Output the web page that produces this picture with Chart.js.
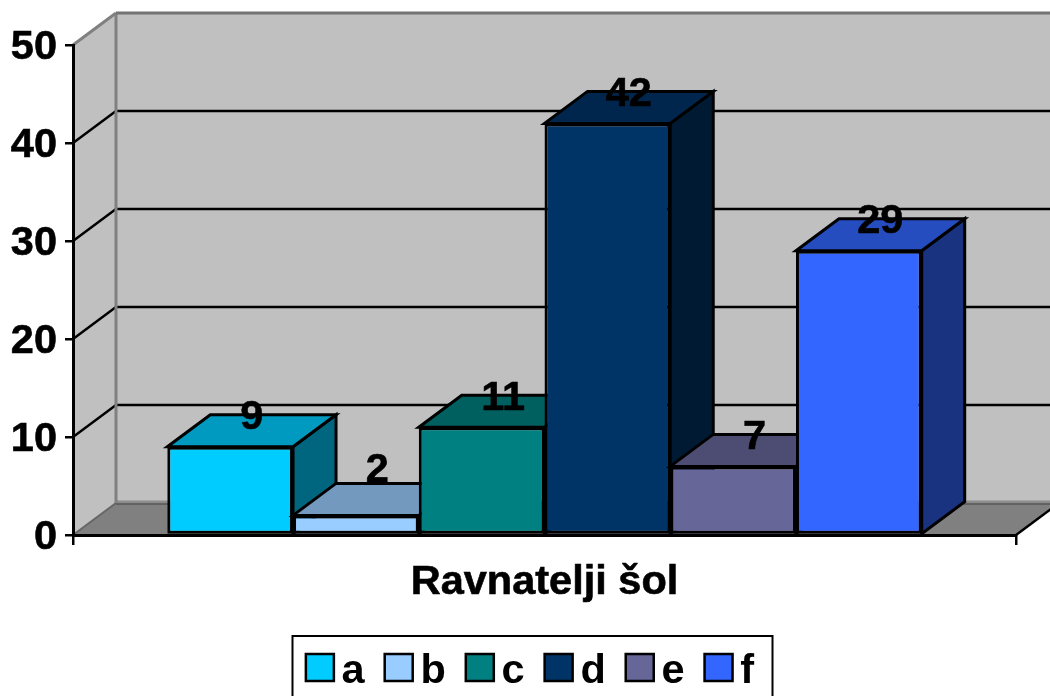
<!DOCTYPE html>
<html>
<head>
<meta charset="utf-8">
<title>Ravnatelji šol</title>
<script src="https://cdn.jsdelivr.net/npm/chart.js@4"></script>
<style>
  html, body { margin: 0; padding: 0; background: #fff; overflow: hidden; }
  #wrap { width: 1050px; height: 696px; }
</style>
</head>
<body>
<div id="wrap"><canvas id="chart" width="1050" height="696"></canvas></div>
<script>
// data
const categories = ['Ravnatelji šol'];
const seriesNames = ['a', 'b', 'c', 'd', 'e', 'f'];
const seriesValues = [9, 2, 11, 42, 7, 29];
const yTicks = [0, 10, 20, 30, 40, 50];

// bar faces: front, top, side
const frontColors = ['#00CCFF', '#99CCFF', '#008080', '#003366', '#666699', '#3366FF'];
const topColors = ['#0099BF', '#7399BF', '#006060', '#00264D', '#4D4D73', '#264DBF'];
const sideColors = ['#006680', '#4C6680', '#004040', '#001A33', '#33334D', '#1A3380'];

const DEPTH_X = 43;
const DEPTH_Y = 32;
const EDGE = 3;
const FONT = 'bold 41.5px "Liberation Sans", Arial, sans-serif';

function poly(ctx, pts, fill, stroke, lw) {
    ctx.beginPath();
    ctx.moveTo(pts[0][0], pts[0][1]);
    for (let i = 1; i < pts.length; i++) ctx.lineTo(pts[i][0], pts[i][1]);
    ctx.closePath();
    if (fill) { ctx.fillStyle = fill; ctx.fill(); }
    if (stroke) { ctx.strokeStyle = stroke; ctx.lineWidth = lw; ctx.lineJoin = 'miter'; ctx.stroke(); }
}

function line(ctx, x1, y1, x2, y2, color, lw) {
    ctx.beginPath();
    ctx.moveTo(x1, y1);
    ctx.lineTo(x2, y2);
    ctx.strokeStyle = color;
    ctx.lineWidth = lw;
    ctx.stroke();
}

// the 3d box: walls, floor and gridlines behind the bars, side and top faces per bar
const box3d = {
    id: 'box3d',
    afterLayout(chart) {
        // legend sits a bit off the chart centre and runs past the bottom edge
        const lg = chart.legend;
        lg.left += 22;
        lg.right += 22;
        const h = lg.height;
        lg.top = 630.75;
        lg.bottom = lg.top + h;
    },
    beforeDraw(chart) {
        const ctx = chart.ctx;
        const { left, right } = chart.chartArea;
        const y = chart.scales.y;
        const y0 = y.getPixelForValue(0);
        const yMax = y.getPixelForValue(50);
        const bl = left + DEPTH_X;
        const br = right + DEPTH_X;
        ctx.save();
        ctx.fillStyle = '#fff';
        ctx.fillRect(0, 0, chart.width, chart.height);
        // walls
        poly(ctx, [[bl, yMax - DEPTH_Y], [br, yMax - DEPTH_Y], [br, y0 - DEPTH_Y], [bl, y0 - DEPTH_Y]], '#C0C0C0');
        poly(ctx, [[left, yMax], [bl, yMax - DEPTH_Y], [bl, y0 - DEPTH_Y], [left, y0]], '#C0C0C0');
        // floor
        poly(ctx, [[left, y0], [bl, y0 - DEPTH_Y], [br, y0 - DEPTH_Y], [right, y0]], '#808080');
        line(ctx, bl, y0 - DEPTH_Y - 1, br, y0 - DEPTH_Y - 1, '#8c8c8c', 3);
        line(ctx, bl, y0 - DEPTH_Y + 1, br, y0 - DEPTH_Y + 1, '#404040', 1);
        line(ctx, left, y0, bl, y0 - DEPTH_Y, '#666', 2);
        line(ctx, right, y0, br, y0 - DEPTH_Y, '#000', 2.5);
        // gridlines
        yTicks.forEach(v => {
            if (v === 0 || v === 50) return;
            const py = y.getPixelForValue(v);
            line(ctx, left, py, bl, py - DEPTH_Y, '#000', 2.5);
            line(ctx, bl, py - DEPTH_Y, br, py - DEPTH_Y, '#000', 2.5);
        });
        // wall edges
        line(ctx, bl, y0 - DEPTH_Y, bl, yMax - DEPTH_Y, '#808080', 3);
        line(ctx, left, yMax, bl, yMax - DEPTH_Y, '#808080', 3);
        line(ctx, bl, yMax - DEPTH_Y, br, yMax - DEPTH_Y, '#737373', 3);
        ctx.restore();
    },
    // chart.js paints the last dataset first, but here a has to go under b and so on
    beforeDatasetDraw() {
        return false;
    },
    afterDatasetsDraw(chart) {
        const ctx = chart.ctx;
        ctx.save();
        seriesValues.forEach((v, i) => {
            const meta = chart.getDatasetMeta(i);
            meta.controller.draw();
            const bar = meta.data[0];
            const l = bar.x - bar.width / 2;
            const r = bar.x + bar.width / 2;
            poly(ctx, [[r, bar.y], [r + DEPTH_X, bar.y - DEPTH_Y], [r + DEPTH_X, bar.base - DEPTH_Y], [r, bar.base]], sideColors[i], '#000', EDGE);
            poly(ctx, [[l, bar.y], [l + DEPTH_X, bar.y - DEPTH_Y], [r + DEPTH_X, bar.y - DEPTH_Y], [r, bar.y]], topColors[i], '#000', EDGE);
        });
        ctx.font = FONT;
        ctx.fillStyle = '#000';
        ctx.strokeStyle = '#000';
        ctx.lineWidth = 0.6;
        ctx.textAlign = 'center';
        ctx.textBaseline = 'middle';
        seriesValues.forEach((v, i) => {
            const bar = chart.getDatasetMeta(i).data[0];
            // the label for b sits higher in the original
            const nudge = seriesNames[i] === 'b' ? -16 : 0;
            const tx = bar.x + DEPTH_X / 2;
            const ty = bar.y - DEPTH_Y + 3 + nudge;
            ctx.fillText(String(v), tx, ty);
            ctx.strokeText(String(v), tx, ty);
        });
        ctx.restore();
    },
    afterDraw(chart) {
        // legend frame and swatches, around the items the legend laid out
        const ctx = chart.ctx;
        const hits = chart.legend.legendHitBoxes;
        ctx.save();
        hits.forEach((h, i) => {
            ctx.fillStyle = frontColors[i];
            ctx.fillRect(h.left, 654, 28, 27);
            ctx.strokeStyle = '#000';
            ctx.lineWidth = 2.5;
            ctx.strokeRect(h.left, 654, 28, 27);
        });
        ctx.strokeStyle = '#000';
        ctx.lineWidth = 2;
        ctx.strokeRect(292.5, 636, 480, 80);
        ctx.restore();
    }
};

const ctx = document.getElementById('chart').getContext('2d');
new Chart(ctx, {
    type: 'bar',
    data: {
        labels: categories,
        datasets: seriesNames.map((name, i) => ({
            label: name,
            data: [seriesValues[i]],
            backgroundColor: frontColors[i],
            borderColor: '#000',
            borderWidth: EDGE,
            borderSkipped: false,
            categoryPercentage: 0.8,
            barPercentage: 1
        }))
    },
    options: {
        responsive: false,
        animation: false,
        layout: { padding: { top: 45, right: 34, left: 0, bottom: 0 } },
        font: { family: '"Liberation Sans", Arial, sans-serif' },
        plugins: {
            tooltip: { enabled: false },
            legend: {
                position: 'bottom',
                labels: {
                    boxWidth: 15,
                    boxHeight: 18,
                    padding: 20,
                    color: '#000',
                    font: { size: 41.5, weight: 'bold', family: '"Liberation Sans", Arial, sans-serif', lineHeight: 1 },
                    generateLabels: () => seriesNames.map((name, i) => ({
                        text: name,
                        datasetIndex: i,
                        fillStyle: 'rgba(0,0,0,0)',
                        strokeStyle: 'rgba(0,0,0,0)',
                        lineWidth: 0
                    }))
                }
            }
        },
        scales: {
            x: {
                afterFit: s => { s.height = 89.5; },
                grid: { drawOnChartArea: false, color: '#000', lineWidth: 2.5, tickLength: 10 },
                border: { color: '#000', width: 3 },
                ticks: {
                    color: '#000',
                    padding: 13,
                    textStrokeColor: '#000',
                    textStrokeWidth: 0.6,
                    font: { size: 41.5, weight: 'bold', family: '"Liberation Sans", Arial, sans-serif' }
                }
            },
            y: {
                min: 0,
                max: 50,
                afterFit: s => { s.width = 73; },
                afterBuildTicks: s => { s.ticks = yTicks.map(v => ({ value: v })); },
                grid: { drawOnChartArea: false, color: '#000', lineWidth: 2.5, tickLength: 8 },
                border: { color: '#000', width: 3 },
                ticks: {
                    color: '#000',
                    padding: 8,
                    labelOffset: 2.5,
                    textStrokeColor: '#000',
                    textStrokeWidth: 0.6,
                    font: { size: 41.5, weight: 'bold', family: '"Liberation Sans", Arial, sans-serif' }
                }
            }
        }
    },
    plugins: [box3d]
});
</script>
</body>
</html>
